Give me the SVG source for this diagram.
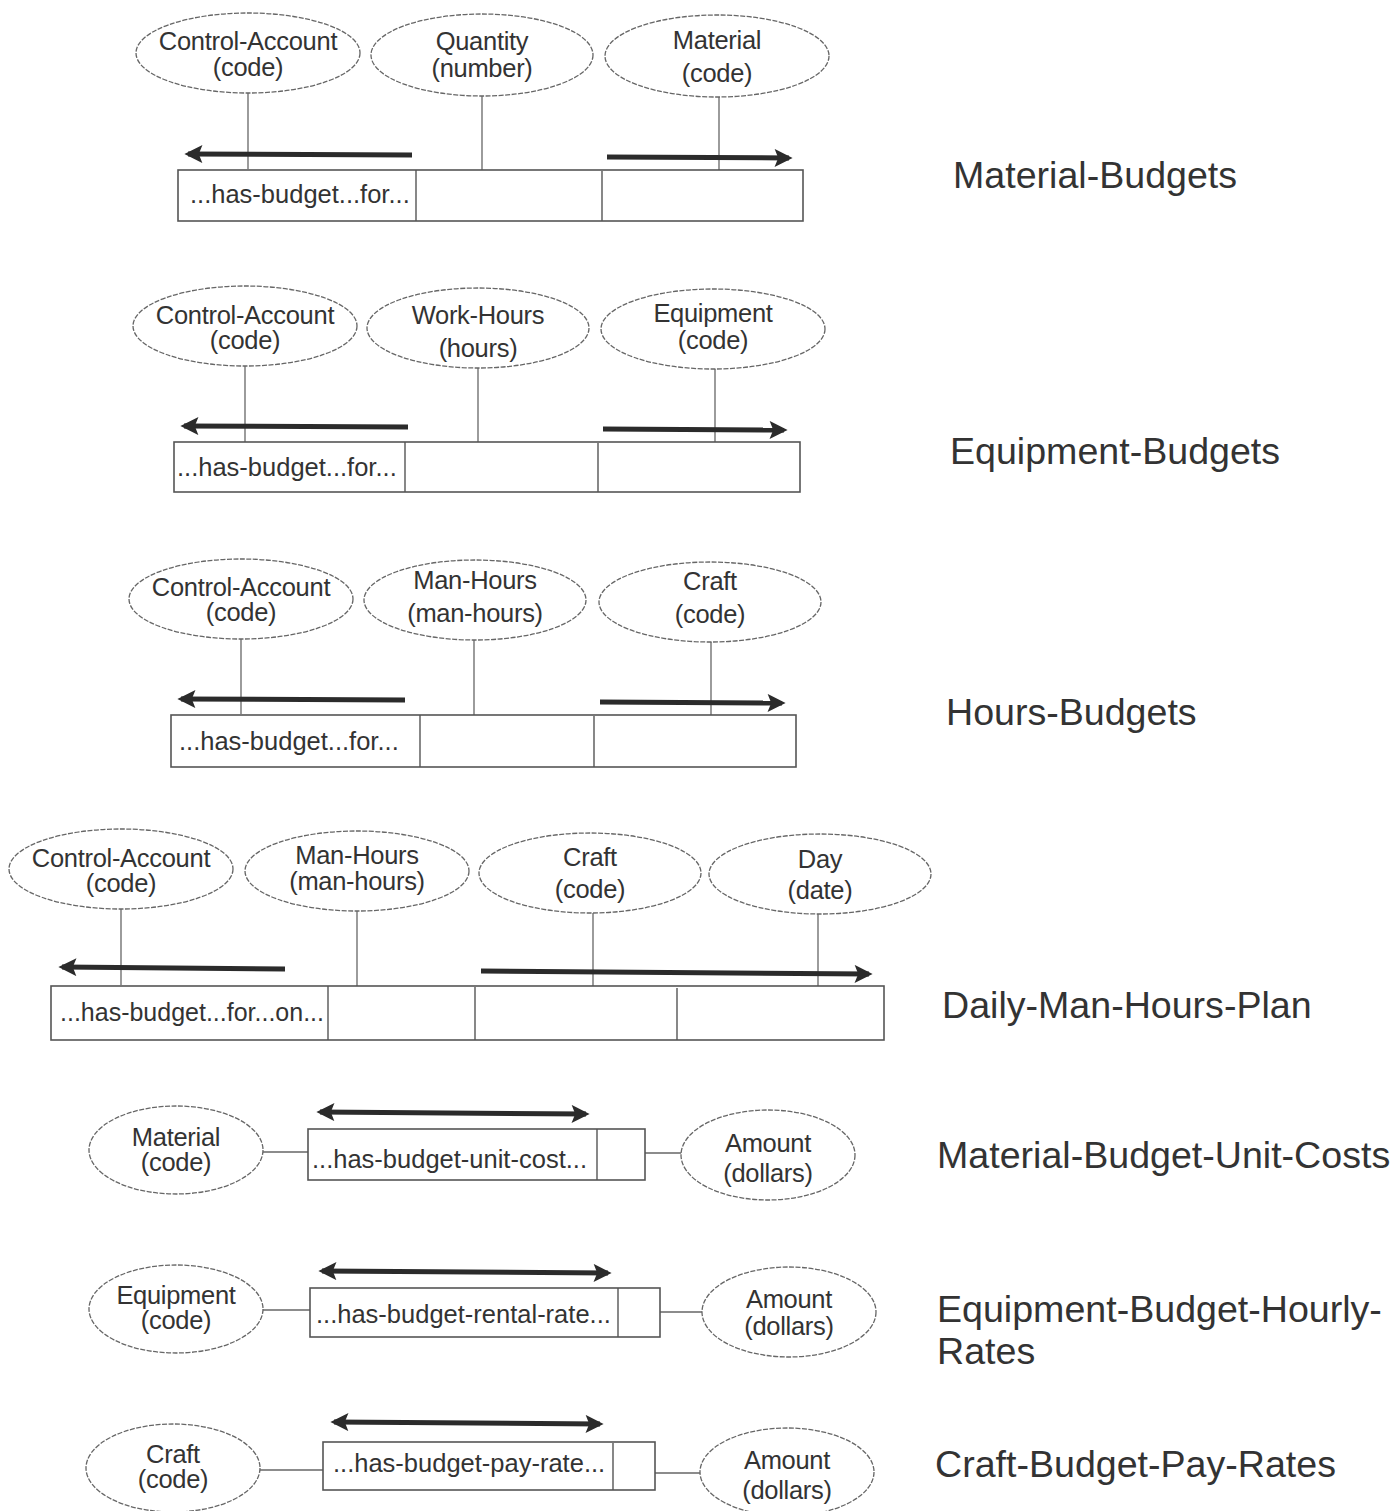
<svg xmlns="http://www.w3.org/2000/svg" width="1397" height="1511" viewBox="0 0 1397 1511">
<style>
.bg{fill:#ffffff}
.ell{fill:#ffffff;stroke:#666;stroke-width:1.3;stroke-dasharray:5 1.5}
.box{fill:#ffffff;stroke:#555;stroke-width:1.6}
.div{stroke:#555;stroke-width:1.4}
.ln{stroke:#666;stroke-width:1.3;fill:none}
.arr{stroke:#2b2b2b;stroke-width:5;fill:none}
.t{font-family:"Liberation Sans",Arial,sans-serif;font-size:25.5px;fill:#333;text-anchor:middle;letter-spacing:-0.3px}
.bt{font-family:"Liberation Sans",Arial,sans-serif;font-size:25.5px;fill:#333}
.lab{font-family:"Liberation Sans",Arial,sans-serif;font-size:37.6px;fill:#333}
</style>
<defs>
<marker id="ah" viewBox="0 0 10 10" refX="8" refY="5" markerWidth="4.2" markerHeight="3.6" orient="auto-start-reverse" markerUnits="strokeWidth">
<path d="M0,0 L10,5 L0,10 L2,5 z" fill="#2b2b2b"/>
</marker>
</defs>
<rect class="bg" x="0" y="0" width="1397" height="1511"/>

<g id="connectors">
<line class="ln" x1="248" y1="93" x2="248" y2="169"/>
<line class="ln" x1="482" y1="96" x2="482" y2="170"/>
<line class="ln" x1="719" y1="97" x2="719" y2="172"/>
<line class="arr" x1="412" y1="155" x2="188" y2="154" marker-end="url(#ah)"/>
<line class="arr" x1="607" y1="157" x2="789" y2="158" marker-end="url(#ah)"/>
<line class="ln" x1="245" y1="366" x2="245" y2="442"/>
<line class="ln" x1="478" y1="368" x2="478" y2="442"/>
<line class="ln" x1="715" y1="369" x2="715" y2="445"/>
<line class="arr" x1="408" y1="427" x2="184" y2="426" marker-end="url(#ah)"/>
<line class="arr" x1="603" y1="429" x2="784" y2="430" marker-end="url(#ah)"/>
<line class="ln" x1="241" y1="639" x2="241" y2="714"/>
<line class="ln" x1="474" y1="640" x2="474" y2="716"/>
<line class="ln" x1="711" y1="642" x2="711" y2="718"/>
<line class="arr" x1="405" y1="700" x2="181" y2="699" marker-end="url(#ah)"/>
<line class="arr" x1="600" y1="702" x2="782" y2="703" marker-end="url(#ah)"/>
<line class="ln" x1="121" y1="909" x2="121" y2="985"/>
<line class="ln" x1="357" y1="911" x2="357" y2="987"/>
<line class="ln" x1="593" y1="913" x2="593" y2="988"/>
<line class="ln" x1="818" y1="914" x2="818" y2="990"/>
<line class="arr" x1="285" y1="969" x2="62" y2="967" marker-end="url(#ah)"/>
<line class="arr" x1="481" y1="971" x2="869" y2="974" marker-end="url(#ah)"/>
<line class="ln" x1="262" y1="1152" x2="308" y2="1152"/>
<line class="ln" x1="645" y1="1153" x2="683" y2="1153"/>
<line class="arr" x1="320" y1="1112" x2="586" y2="1114" marker-start="url(#ah)" marker-end="url(#ah)"/>
<line class="ln" x1="263" y1="1310" x2="310" y2="1310"/>
<line class="ln" x1="660" y1="1312" x2="704" y2="1312"/>
<line class="arr" x1="322" y1="1271" x2="608" y2="1273" marker-start="url(#ah)" marker-end="url(#ah)"/>
<line class="ln" x1="259" y1="1470" x2="323" y2="1470"/>
<line class="ln" x1="655" y1="1473" x2="701" y2="1473"/>
<line class="arr" x1="334" y1="1422" x2="600" y2="1424" marker-start="url(#ah)" marker-end="url(#ah)"/>
</g>

<g id="s1-control-account"><ellipse class="ell" cx="248" cy="53" rx="112" ry="40"/><text class="t" x="248" y="50">Control-Account</text><text class="t" x="248" y="76">(code)</text></g>
<g id="s1-quantity"><ellipse class="ell" cx="482" cy="55" rx="111" ry="41"/><text class="t" x="482" y="50">Quantity</text><text class="t" x="482" y="77">(number)</text></g>
<g id="s1-material"><ellipse class="ell" cx="717" cy="56" rx="112" ry="41"/><text class="t" x="717" y="49">Material</text><text class="t" x="717" y="82">(code)</text></g>
<g id="s1-fact"><rect class="box" x="178" y="170" width="625" height="51"/><line class="div" x1="416" y1="170" x2="416" y2="221"/><line class="div" x1="602" y1="171" x2="602" y2="221"/><text class="bt" x="190" y="203">...has-budget...for...</text></g>
<g id="s1-label"><text class="lab" x="953" y="188">Material-Budgets</text></g>

<g id="s2-control-account"><ellipse class="ell" cx="245" cy="326" rx="112" ry="40"/><text class="t" x="245" y="324">Control-Account</text><text class="t" x="245" y="349">(code)</text></g>
<g id="s2-work-hours"><ellipse class="ell" cx="478" cy="328" rx="111" ry="40"/><text class="t" x="478" y="324">Work-Hours</text><text class="t" x="478" y="357">(hours)</text></g>
<g id="s2-equipment"><ellipse class="ell" cx="713" cy="329" rx="112" ry="40"/><text class="t" x="713" y="322">Equipment</text><text class="t" x="713" y="349">(code)</text></g>
<g id="s2-fact"><rect class="box" x="174" y="442" width="626" height="50"/><line class="div" x1="405" y1="442" x2="405" y2="492"/><line class="div" x1="598" y1="443" x2="598" y2="492"/><text class="bt" x="177" y="476">...has-budget...for...</text></g>
<g id="s2-label"><text class="lab" x="950" y="464">Equipment-Budgets</text></g>

<g id="s3-control-account"><ellipse class="ell" cx="241" cy="599" rx="112" ry="40"/><text class="t" x="241" y="596">Control-Account</text><text class="t" x="241" y="621">(code)</text></g>
<g id="s3-man-hours"><ellipse class="ell" cx="475" cy="600" rx="111" ry="40"/><text class="t" x="475" y="589">Man-Hours</text><text class="t" x="475" y="622">(man-hours)</text></g>
<g id="s3-craft"><ellipse class="ell" cx="710" cy="602" rx="111" ry="40"/><text class="t" x="710" y="590">Craft</text><text class="t" x="710" y="623">(code)</text></g>
<g id="s3-fact"><rect class="box" x="171" y="715" width="625" height="52"/><line class="div" x1="420" y1="715" x2="420" y2="767"/><line class="div" x1="594" y1="716" x2="594" y2="767"/><text class="bt" x="179" y="750">...has-budget...for...</text></g>
<g id="s3-label"><text class="lab" x="946" y="725">Hours-Budgets</text></g>

<g id="s4-control-account"><ellipse class="ell" cx="121" cy="869" rx="112" ry="40"/><text class="t" x="121" y="867">Control-Account</text><text class="t" x="121" y="892">(code)</text></g>
<g id="s4-man-hours"><ellipse class="ell" cx="357" cy="871" rx="112" ry="40"/><text class="t" x="357" y="864">Man-Hours</text><text class="t" x="357" y="890">(man-hours)</text></g>
<g id="s4-craft"><ellipse class="ell" cx="590" cy="873" rx="111" ry="40"/><text class="t" x="590" y="866">Craft</text><text class="t" x="590" y="898">(code)</text></g>
<g id="s4-day"><ellipse class="ell" cx="820" cy="874" rx="111" ry="40"/><text class="t" x="820" y="868">Day</text><text class="t" x="820" y="899">(date)</text></g>
<g id="s4-fact"><rect class="box" x="51" y="986" width="833" height="54"/><line class="div" x1="328" y1="986" x2="328" y2="1040"/><line class="div" x1="475" y1="987" x2="475" y2="1040"/><line class="div" x1="677" y1="988" x2="677" y2="1040"/><text class="bt" x="60" y="1021" textLength="264" lengthAdjust="spacingAndGlyphs">...has-budget...for...on...</text></g>
<g id="s4-label"><text class="lab" x="942" y="1018">Daily-Man-Hours-Plan</text></g>

<g id="s5-material"><ellipse class="ell" cx="176" cy="1150" rx="87" ry="44"/><text class="t" x="176" y="1146">Material</text><text class="t" x="176" y="1171">(code)</text></g>
<g id="s5-fact"><rect class="box" x="308" y="1129" width="337" height="51"/><line class="div" x1="597" y1="1129" x2="597" y2="1180"/><text class="bt" x="312" y="1168">...has-budget-unit-cost...</text></g>
<g id="s5-amount"><ellipse class="ell" cx="768" cy="1155" rx="87" ry="45"/><text class="t" x="768" y="1152">Amount</text><text class="t" x="768" y="1182">(dollars)</text></g>
<g id="s5-label"><text class="lab" x="937" y="1168">Material-Budget-Unit-Costs</text></g>

<g id="s6-equipment"><ellipse class="ell" cx="176" cy="1309" rx="87" ry="44"/><text class="t" x="176" y="1304">Equipment</text><text class="t" x="176" y="1329">(code)</text></g>
<g id="s6-fact"><rect class="box" x="310" y="1288" width="350" height="49"/><line class="div" x1="618" y1="1288" x2="618" y2="1337"/><text class="bt" x="316" y="1323">...has-budget-rental-rate...</text></g>
<g id="s6-amount"><ellipse class="ell" cx="789" cy="1312" rx="87" ry="45"/><text class="t" x="789" y="1308">Amount</text><text class="t" x="789" y="1335">(dollars)</text></g>
<g id="s6-label"><text class="lab" x="937" y="1322">Equipment-Budget-Hourly-</text><text class="lab" x="937" y="1364">Rates</text></g>

<g id="s7-craft"><ellipse class="ell" cx="173" cy="1468" rx="87" ry="44"/><text class="t" x="173" y="1463">Craft</text><text class="t" x="173" y="1488">(code)</text></g>
<g id="s7-fact"><rect class="box" x="323" y="1442" width="332" height="48"/><line class="div" x1="613" y1="1443" x2="613" y2="1490"/><text class="bt" x="333" y="1472">...has-budget-pay-rate...</text></g>
<g id="s7-amount"><ellipse class="ell" cx="787" cy="1472" rx="87" ry="44"/><text class="t" x="787" y="1469">Amount</text><text class="t" x="787" y="1499">(dollars)</text></g>
<g id="s7-label"><text class="lab" x="935" y="1477">Craft-Budget-Pay-Rates</text></g>
</svg>
